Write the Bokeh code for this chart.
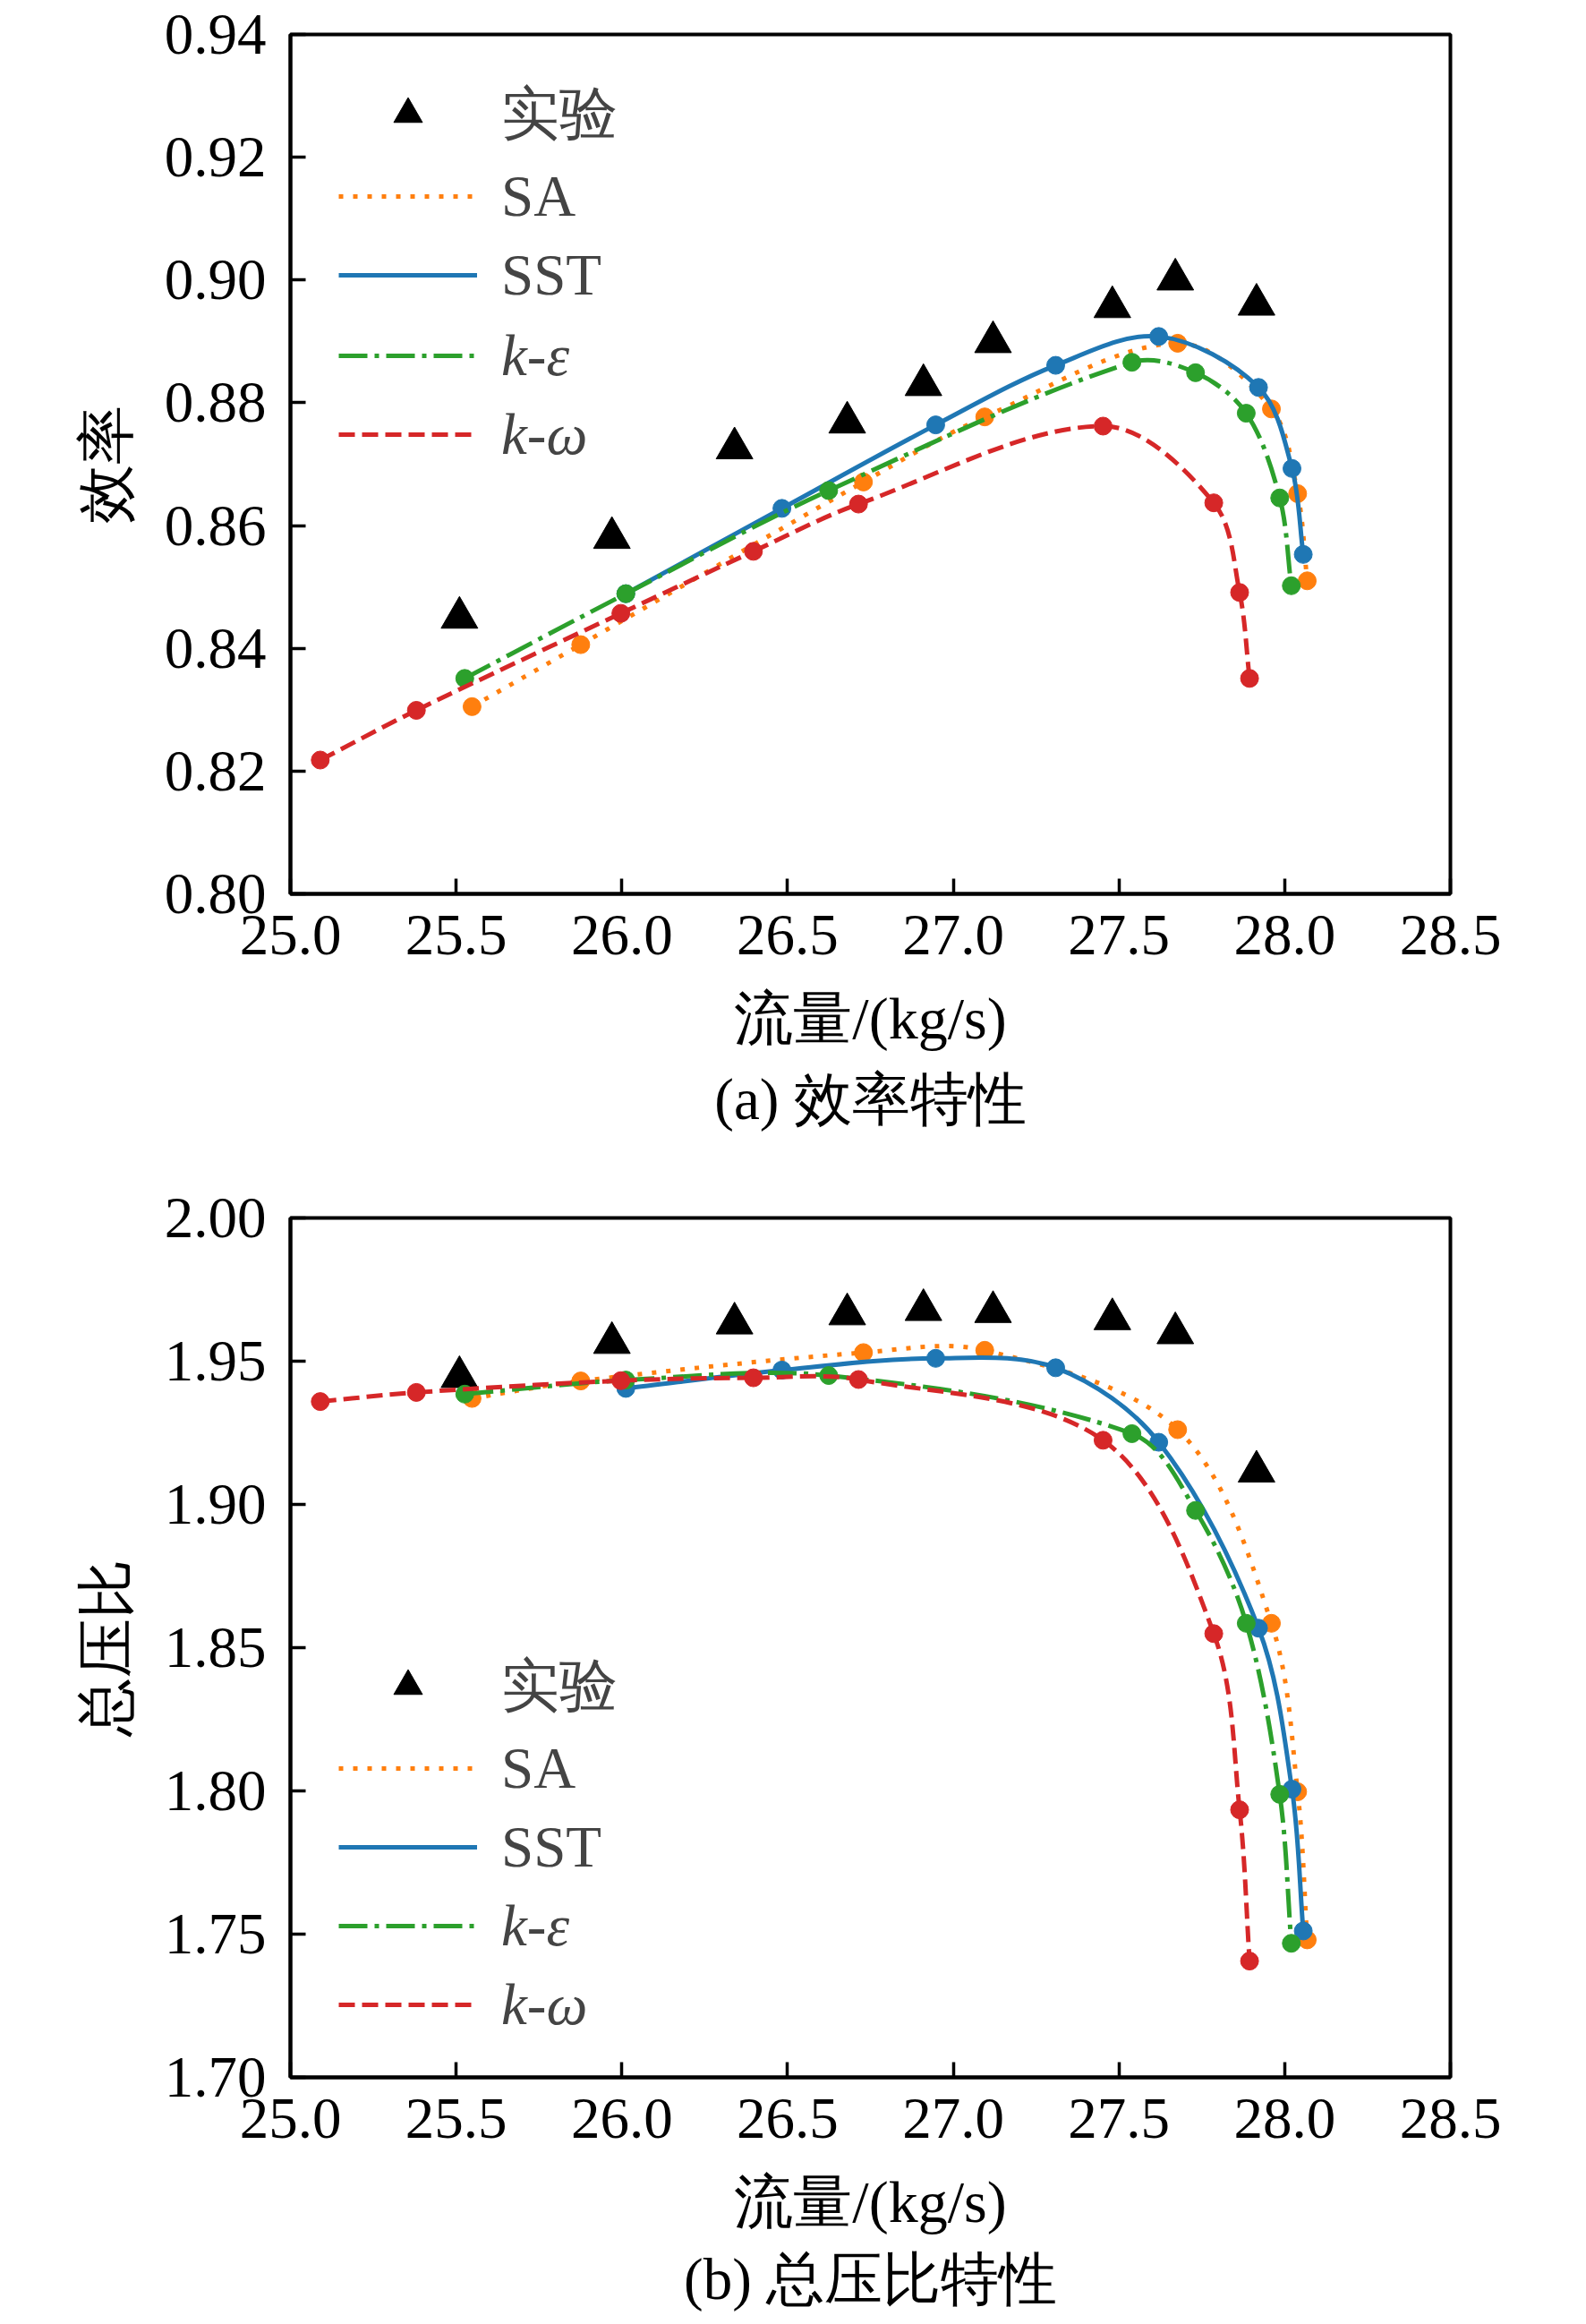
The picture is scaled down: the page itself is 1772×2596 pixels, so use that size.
import numpy as np
from bokeh.plotting import figure
from bokeh.models import (ColumnDataSource, FixedTicker, PrintfTickFormatter,
                          Legend, LegendItem, Title, Range1d)
from bokeh.layouts import column
from bokeh.embed import file_html
from bokeh.resources import INLINE

# ---------------- data ----------------
x_ticks = [25.0, 25.5, 26.0, 26.5, 27.0, 27.5, 28.0, 28.5]
eff_ticks = [0.80, 0.82, 0.84, 0.86, 0.88, 0.90, 0.92, 0.94]
pr_ticks = [1.70, 1.75, 1.80, 1.85, 1.90, 1.95, 2.00]

exp_flow = [25.51, 25.97, 26.34, 26.68, 26.91, 27.12, 27.48, 27.67, 27.915]
exp_eff = [0.845, 0.858, 0.8726, 0.8768, 0.8829, 0.8899, 0.8956, 0.9001, 0.8960]
exp_pr = [1.9445, 1.9564, 1.9632, 1.9664, 1.9679, 1.9672, 1.9647, 1.9598, 1.9115]

sa_flow = [25.548, 25.876, 26.729, 27.095, 27.677, 27.960, 28.039, 28.068]
sa_eff = [0.8305, 0.8406, 0.8671, 0.8777, 0.8897, 0.8790, 0.8652, 0.8510]
sa_pr = [1.9370, 1.9431, 1.9530, 1.9538, 1.9261, 1.8585, 1.7997, 1.7480]

sst_flow = [26.012, 26.483, 26.947, 27.309, 27.620, 27.921, 28.022, 28.056]
sst_eff = [0.8489, 0.8628, 0.8764, 0.8861, 0.8908, 0.8825, 0.8693, 0.8553]
sst_pr = [1.9405, 1.9469, 1.9510, 1.9477, 1.9217, 1.8568, 1.8006, 1.7511]

ke_flow = [25.526, 26.012, 26.624, 27.539, 27.731, 27.884, 27.985, 28.020]
ke_eff = [0.8351, 0.8489, 0.8657, 0.8866, 0.8849, 0.8783, 0.8645, 0.8502]
ke_pr = [1.9385, 1.9434, 1.9450, 1.9247, 1.8979, 1.8585, 1.7988, 1.7468]

kw_flow = [25.090, 25.380, 25.997, 26.397, 26.714, 27.452, 27.786, 27.864, 27.894]
kw_eff = [0.8218, 0.8299, 0.8457, 0.8558, 0.8635, 0.8762, 0.8637, 0.8491, 0.8351]
kw_pr = [1.9359, 1.9391, 1.9432, 1.9442, 1.9436, 1.9224, 1.8549, 1.7934, 1.7406]

series_names = ["SA", "SST", "k-ε", "k-ω"]
series_colors = ["#ff7f0e", "#1f77b4", "#2ca02c", "#d62728"]
series_dashes = ["5 11", "solid", "32 8 5 8", "18 8"]

FONT = "Liberation Serif"
FS = "65px"
FIG_W = 1756


def bezier_data(xs, ys, kx, ky):
    """Smooth curve through the data points: control points of a
    cubic Bezier per segment (chord-scaled Catmull-Rom tangents)."""
    P = np.column_stack([np.asarray(xs, float) * kx, np.asarray(ys, float) * ky])
    d = np.linalg.norm(np.diff(P, axis=0), axis=1)
    m = np.zeros_like(P)
    m[0] = (P[1] - P[0]) / d[0]
    m[-1] = (P[-1] - P[-2]) / d[-1]
    for i in range(1, len(P) - 1):
        m[i] = (P[i + 1] - P[i - 1]) / (d[i - 1] + d[i])
    c0 = P[:-1] + m[:-1] * d[:, None] / 3.0
    c1 = P[1:] - m[1:] * d[:, None] / 3.0
    return dict(x0=P[:-1, 0] / kx, y0=P[:-1, 1] / ky,
                x1=P[1:, 0] / kx, y1=P[1:, 1] / ky,
                cx0=c0[:, 0] / kx, cy0=c0[:, 1] / ky,
                cx1=c1[:, 0] / kx, cy1=c1[:, 1] / ky)


def make_fig(height, top, frame_h, y0, y1, yticks, yfmt, ylabel, caption,
             flows, vals, exp_vals, leg1_y, leg2_y, cap_standoff):
    frame_w = 1296
    left = 324
    p = figure(width=FIG_W, height=height,
               x_range=Range1d(25.0, 28.5), y_range=Range1d(y0, y1),
               output_backend="svg", toolbar_location=None,
               min_border_left=left, min_border_right=FIG_W - left - frame_w,
               min_border_top=top, min_border_bottom=height - top - frame_h)
    p.background_fill_color = "white"
    p.border_fill_color = "white"
    p.outline_line_color = "black"
    p.outline_line_width = 4
    p.grid.visible = False

    for ax in (p.xaxis[0], p.yaxis[0]):
        ax.axis_line_width = 4
        ax.axis_line_color = "black"
        ax.major_tick_in = 17
        ax.major_tick_out = 0
        ax.minor_tick_in = 0
        ax.minor_tick_out = 0
        ax.major_tick_line_width = 3.5
        ax.major_label_text_font = FONT
        ax.major_label_text_font_size = FS
        ax.major_label_text_color = "black"
        ax.axis_label_text_font = FONT
        ax.axis_label_text_font_size = "66px"
        ax.axis_label_text_font_style = "normal"
        ax.axis_label_text_color = "black"

    p.xaxis.ticker = FixedTicker(ticks=x_ticks)
    p.xaxis.formatter = PrintfTickFormatter(format="%.1f")
    p.xaxis.major_label_standoff = 24
    p.xaxis.axis_label = "流量/(kg/s)"
    p.xaxis.axis_label_standoff = 32

    p.yaxis.ticker = FixedTicker(ticks=yticks)
    p.yaxis.formatter = PrintfTickFormatter(format=yfmt)
    p.yaxis.major_label_standoff = 27
    p.yaxis.axis_label = ylabel
    p.yaxis.axis_label_standoff = 26

    kx = frame_w / 3.5
    ky = frame_h / (y1 - y0)

    exp_src = ColumnDataSource(dict(x=exp_flow, y=exp_vals))
    r_exp = p.scatter("x", "y", source=exp_src, marker="triangle", size=41,
                      fill_color="black", line_color="black")

    line_renderers = []
    for name, fx, fy, col, dash in zip(series_names, flows, vals,
                                       series_colors, series_dashes):
        bsrc = ColumnDataSource(bezier_data(fx, fy, kx, ky))
        rl = p.bezier(x0="x0", y0="y0", x1="x1", y1="y1", cx0="cx0", cy0="cy0",
                      cx1="cx1", cy1="cy1", source=bsrc, line_color=col,
                      line_width=5, line_dash=dash)
        psrc = ColumnDataSource(dict(x=fx, y=fy))
        p.scatter("x", "y", source=psrc, marker="circle", size=20,
                  fill_color=col, line_color=col)
        line_renderers.append(rl)

    def style_legend(lg, italic):
        lg.glyph_width = 155
        lg.glyph_height = 80
        lg.label_height = 80
        lg.spacing = 8
        lg.padding = 10
        lg.margin = 0
        lg.label_standoff = 27
        lg.label_text_font = FONT
        lg.label_text_font_size = FS
        lg.label_text_font_style = "italic" if italic else "normal"
        lg.border_line_alpha = 0
        lg.background_fill_alpha = 0

    lg1 = Legend(items=[LegendItem(label="实验", renderers=[r_exp]),
                        LegendItem(label=series_names[0], renderers=[line_renderers[0]]),
                        LegendItem(label=series_names[1], renderers=[line_renderers[1]])],
                 location=(44, leg1_y))
    style_legend(lg1, False)
    lg2 = Legend(items=[LegendItem(label=series_names[2], renderers=[line_renderers[2]]),
                        LegendItem(label=series_names[3], renderers=[line_renderers[3]])],
                 location=(44, leg2_y))
    style_legend(lg2, True)
    p.add_layout(lg1, "center")
    p.add_layout(lg2, "center")

    t = Title(text=caption, align="center", text_font=FONT, text_font_size="65px",
              text_font_style="normal", text_color="black", standoff=cap_standoff)
    p.add_layout(t, "below")
    return p


p1 = make_fig(1288, 38, 960, 0.80, 0.94, eff_ticks, "%.2f", "效率", "(a) 效率特性",
              [sa_flow, sst_flow, ke_flow, kw_flow],
              [sa_eff, sst_eff, ke_eff, kw_eff], exp_eff, 641, 463, 26)
p2 = make_fig(1306, 72, 960, 1.70, 2.00, pr_ticks, "%.2f", "总压比", "(b) 总压比特性",
              [sa_flow, sst_flow, ke_flow, kw_flow],
              [sa_pr, sst_pr, ke_pr, kw_pr], exp_pr, 207, 31, 18)

layout = column(p1, p2, spacing=0)
open("out.html", "w").write(file_html(layout, INLINE))
